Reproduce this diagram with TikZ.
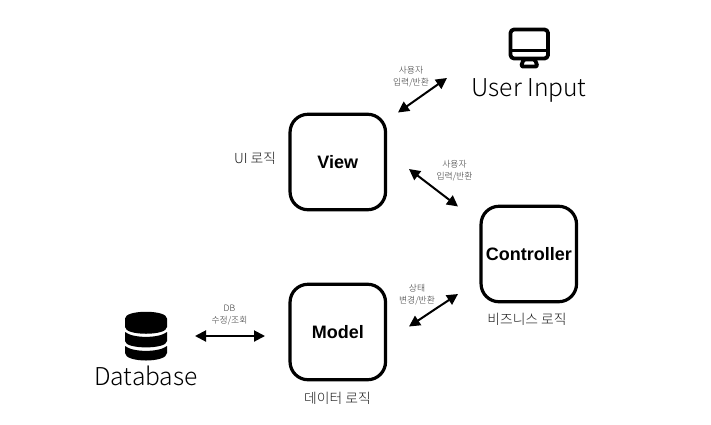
\documentclass[tikz,border=0pt]{standalone}
\usepackage{fontspec}
\setmainfont{Liberation Sans}
\newfontfamily\kr{Noto Sans CJK KR}
\newfontfamily\lt{Noto Sans CJK KR Light}
\usetikzlibrary{arrows.meta}
\tikzset{
  box/.style={draw=black,line width=3.2pt,rounded corners=18pt,minimum width=95.5pt,minimum height=95.5pt,inner sep=0pt,font=\fontsize{18}{20}\selectfont\bfseries},
  dbl/.style={draw=black,line width=2pt,{Triangle[length=11pt,width=11pt]}-{Triangle[length=11pt,width=11pt]}},
  small/.style={text=black!80,align=center,font=\lt\fontsize{8.8}{12.5}\selectfont,inner sep=0pt},
  side/.style={text=black!90,font=\lt\fontsize{13.8}{15}\selectfont,inner sep=0pt},
  big/.style={text=black,font=\lt\fontsize{24.6}{28}\selectfont,inner sep=0pt},
  iconline/.style={draw=black,line width=3.8pt,line join=round,line cap=round}
}
\begin{document}
\begin{tikzpicture}[x=1pt,y=-1pt]
\useasboundingbox (0,0) rectangle (711,424);
\fill[white] (0,0) rectangle (711,424);
\node[box] (view) at (337.8,162) {View};
\node[box] (model) at (337.8,332) {Model};
\node[box] (ctrl) at (528.8,254) {Controller};
\coordinate (ua) at (398,112.5);
\coordinate (ub) at (447,78);
\coordinate (va) at (409,169);
\coordinate (vb) at (458,206.5);
\coordinate (ma) at (409,326.5);
\coordinate (mb) at (458,294);
\coordinate (da) at (195,336);
\coordinate (db) at (265,336);
\draw[dbl] (ua) -- (ub);
\draw[dbl] (va) -- (vb);
\draw[dbl] (ma) -- (mb);
\draw[dbl] (da) -- (db);
\node[small] (l1) at (411,76.5) {사용자\\입력/반환};
\node[small] (l2) at (454.5,170.5) {사용자\\입력/반환};
\node[small] (l3) at (417,294.5) {상태\\변경/반환};
\node[small] (l4) at (229.5,315) {DB\\수정/조회};
\node[side] (s1) at (255,158) {UI 로직};
\node[side] (s2) at (337.5,398) {데이터 로직};
\node[side] (s3) at (527,319) {비즈니스 로직};
\node[big] (ui) at (529,90) {User Input};
\node[big] (dbt) at (146,376) {Database};
% monitor icon
\draw[iconline,rounded corners=3.5pt] (510.5,29.5) rectangle (548,58.5);
\draw[iconline,line cap=butt] (510.5,50.5) -- (548,50.5);
\draw[iconline,rounded corners=1.5pt] (521,66.5) -- (537.5,66.5) -- (535,59.5) -- (523.5,59.5) -- cycle;
% database icon
\fill[black] (125,318.5) .. controls (125,309.5) and (167,309.5) .. (167,318.5) -- (167,327) .. controls (167,336) and (125,336) .. (125,327) -- cycle;
\fill[black] (125,332) .. controls (133,338.5) and (159,338.5) .. (167,332) -- (167,341) .. controls (167,349.5) and (125,349.5) .. (125,341) -- cycle;
\fill[black] (125,346) .. controls (133,352.5) and (159,352.5) .. (167,346) -- (167,353) .. controls (167,363) and (125,363) .. (125,353) -- cycle;
\end{tikzpicture}
\end{document}
